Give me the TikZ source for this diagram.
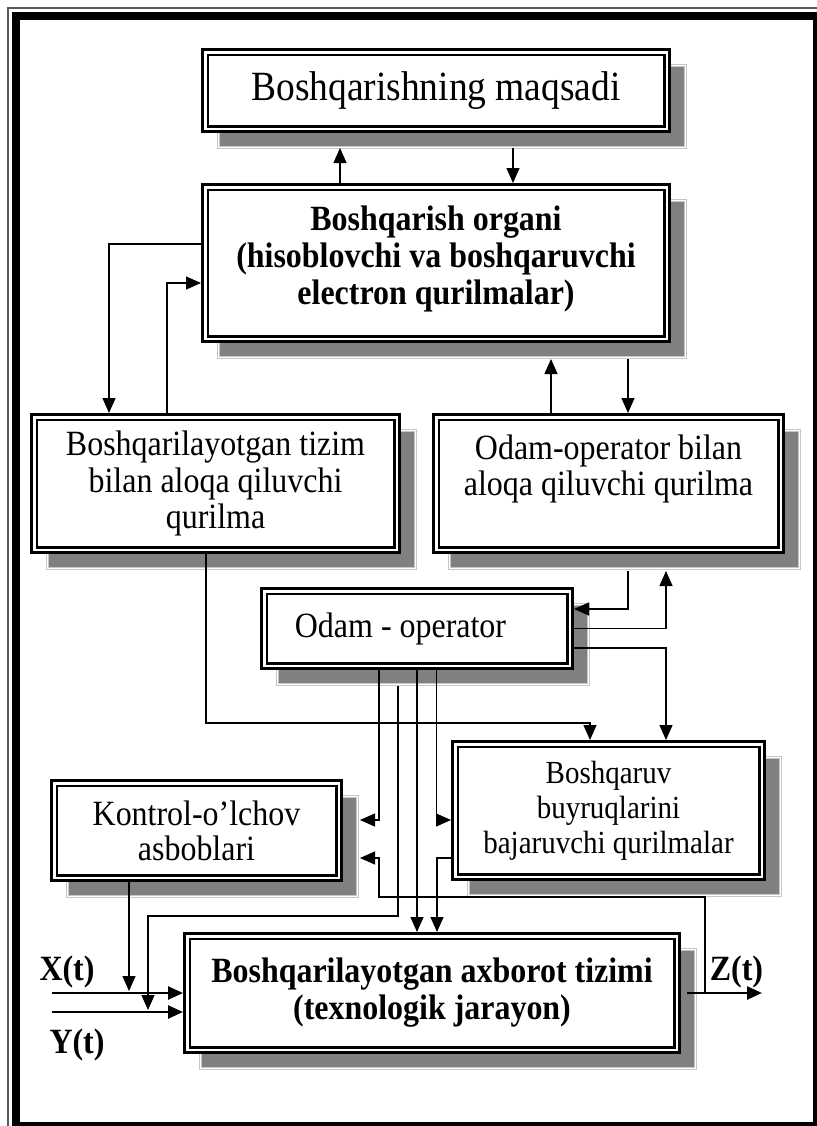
\documentclass[tikz,border=0pt]{standalone}
\usepackage{fontspec}
\setmainfont{Liberation Serif}[FakeStretch=0.9]
\usetikzlibrary{arrows.meta,calc,backgrounds}

\begin{document}
\begin{tikzpicture}[x=0.5pt, y=-0.5pt,
    blok/.style={draw, double, line width=1.4pt, double distance=1.35pt, fill=white,
        outer sep=2.075pt, align=center, font=\fontsize{17.75pt}{18.3pt}\selectfont},
    qblok/.style={blok, font=\fontsize{17.75pt}{18.5pt}\selectfont\bfseries},
    soya/.style={fill=gray, draw=gray!45, line width=0.5pt, double=white, double distance=0.5pt},
    strelka/.style={line width=0.65pt, -{Triangle[length=7.5pt, width=6.5pt]}},
    qalin/.style={line width=1.25pt, -{Triangle[length=7.5pt, width=6.5pt]}},
    yorliq/.style={font=\fontsize{17.75pt}{18.4pt}\selectfont\bfseries, inner sep=0pt, anchor=base}]

    \useasboundingbox (0,0) rectangle (817,1126);
    \begin{scope}
        \clip (0,0) rectangle (817,1126);
        \draw[line width=0.6pt, gray!70!black] (8,1126) -- (8,8) -- (817,8);
        \draw[line width=4pt] (16,16) rectangle (817,1126);
    \end{scope}

    \node[blok, minimum width=230.85pt, minimum height=38.35pt, font=\fontsize{20.8pt}{22pt}\selectfont] (b1) at (436,90.5) {Boshqarishning maqsadi};
    \node[qblok, minimum width=230.85pt, minimum height=75.85pt] (b2) at (436,263) {Boshqarish organi\\(hisoblovchi va boshqaruvchi\\electron qurilmalar)\\[-11pt]\mbox{}};
    \node[blok, minimum width=181.35pt, minimum height=66.35pt] (b3) at (215.5,483.5) {Boshqarilayotgan tizim\\bilan aloqa qiluvchi\\qurilma};
    \node[blok, minimum width=172.35pt, minimum height=66.35pt] (b4) at (608.5,483.5) {Odam-operator bilan\\aloqa qiluvchi qurilma\\\mbox{}};
    \node[blok, minimum width=152.85pt, minimum height=37.35pt] (b5) at (417,628.5) {Odam - operator\hspace*{16.5pt}};
    \node[blok, minimum width=153.35pt, minimum height=66.35pt, font=\fontsize{16.1pt}{17.5pt}\selectfont] (b6) at (608.5,810.5) {Boshqaruv\\buyruqlarini\\bajaruvchi qurilmalar};
    \node[blok, minimum width=142.35pt, minimum height=47.35pt, font=\fontsize{17.75pt}{17.5pt}\selectfont] (b7) at (196.5,830.5) {Kontrol-o’lchov\\asboblari};
    \node[qblok, minimum width=244.85pt, minimum height=56.85pt] (b8) at (432,993) {Boshqarilayotgan axborot tizimi\\(texnologik jarayon)};

    % soyalar
    \begin{scope}[on background layer]
        \foreach \i in {1,...,8}
            \draw[soya] ($(b\i.north west)+(17.5,17.5)$) rectangle ($(b\i.south east)+(14.5,14.5)$);
    \end{scope}

    \draw[strelka] ($(b2.north)+(-96,0)$) -- ($(b1.south)+(-96,15)$);
    \draw[strelka] ($(b1.south)+(77,15)$) -- ($(b2.north)+(77,0)$);
    \draw[strelka] ($(b2.west)+(0,-19)$) -| ($(b3.north)+(-106.5,0)$);
    \draw[strelka] ($(b3.north)+(-48.5,0)$) |- ($(b2.west)+(0,20)$);
    \draw[strelka] ($(b4.north)+(-57.5,0)$) -- ($(b2.south)+(115,16)$);
    \draw[strelka] ($(b2.south)+(192,16)$) -- ($(b4.north)+(19.5,0)$);

    \draw[strelka] ($(b4.south)+(19.5,17)$) |- ($(b5.east)+(0,-19.5)$);
    \draw[strelka] (b5.east) -| ($(b4.south)+(57.5,17)$);
    \draw[strelka] ($(b5.east)+(0,19.5)$) -| ($(b6.north)+(57.5,0)$);
    \draw[strelka] ($(b3.south)+(-9.5,0)$) |- ($(b6.north)+(-18.5,-17)$) -- ($(b6.north)+(-18.5,0)$);

    \draw[strelka] ($(b5.south)+(-38,0)$) |- ($(b7.east)+(17,-10.5)$);
    \draw[strelka] ($(b5.south)+(19.5,0)$) |- ($(b6.west)+(0,9.5)$);
    \draw[strelka] ($(b5.south)+(-19,16)$) |- ($(b8.west)+(-35,-77)$) -- ($(b8.west)+(-35,17)$);
    \draw[strelka] (b5.south) -- (b5.south |- b8.north);
    \draw[strelka] ($(b6.west)+(0,47.5)$) -| ($(b8.north)+(5,0)$);
    \draw[strelka] ($(b8.east)+(24,0)$) |- ($(b7.east)+(36,66.5)$) |- ($(b7.east)+(17,27.5)$);
    \draw[strelka] ($(b7.south)+(-67.5,0)$) -- ($(b8.west)+(-54,-2)$);

    % kirish va chiqish
    \coordinate (xin) at (52,993);
    \coordinate (yin) at (52,1012);
    \coordinate (zout) at (762,993);
    \draw[qalin] (xin) -- (xin -| b8.west);
    \draw[qalin] (yin) -- (yin -| b8.west);
    \draw[qalin] ($(b8.east)+(6,0)$) -- (zout);

    \node[yorliq] (xt) at (67,980) {X(t)};
    \node[yorliq] (yt) at (77,1053) {Y(t)};
    \node[yorliq] (zt) at (736.5,980) {Z(t)};
\end{tikzpicture}
\end{document}
